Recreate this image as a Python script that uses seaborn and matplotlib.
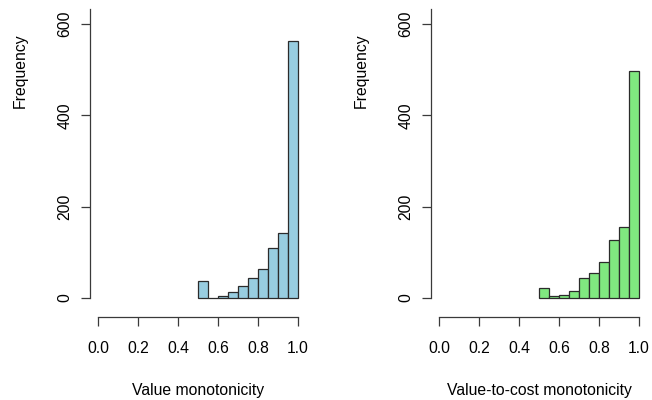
import numpy as np
import pandas as pd
import matplotlib
matplotlib.use("Agg")
import matplotlib.pyplot as plt
import seaborn as sns

# Data
bin_edges = [0.50, 0.55, 0.60, 0.65, 0.70, 0.75, 0.80, 0.85, 0.90, 0.95, 1.00]
value_counts = [37, 1, 4, 14, 27, 44, 63, 110, 142, 563]
vtc_counts = [21, 4, 6, 15, 44, 54, 78, 126, 156, 497]
x_ticks = [0.0, 0.2, 0.4, 0.6, 0.8, 1.0]
x_tick_labels = ["0.0", "0.2", "0.4", "0.6", "0.8", "1.0"]
y_ticks = [0, 200, 400, 600]
y_tick_labels = ["0", "200", "400", "600"]
panels = [
    ("Value monotonicity", value_counts, "#98CDE0"),
    ("Value-to-cost monotonicity", vtc_counts, "#80E880"),
]

sns.set_style("white")
plt.rcParams["font.family"] = ["Liberation Sans", "DejaVu Sans"]

W, H = 652, 400
fig = plt.figure(figsize=(W / 100, H / 100), dpi=100)

centers = [(a + b) / 2 for a, b in zip(bin_edges[:-1], bin_edges[1:])]
axis_color = "#3a3a3a"
fs = 11.3

lefts_px = [90, 431]
for (label, counts, color), lpx in zip(panels, lefts_px):
    ax = fig.add_axes([lpx / W, (H - 317) / H, 216 / W, 308 / H])
    df = pd.DataFrame({"x": centers, "w": counts})
    sns.histplot(data=df, x="x", weights="w", bins=bin_edges, ax=ax,
                 color=color, alpha=1.0, edgecolor="#2b2b2b", linewidth=0.9)
    ax.set_xlim(-0.04, 1.04)
    ax.set_ylim(-41.6, 633)
    for s in ["top", "right"]:
        ax.spines[s].set_visible(False)
    ax.spines["left"].set_bounds(0, 633)
    ax.spines["bottom"].set_bounds(0, 1)
    for s in ["left", "bottom"]:
        ax.spines[s].set_color(axis_color)
        ax.spines[s].set_linewidth(0.9)
    ax.set_xticks(x_ticks)
    ax.set_xticklabels(x_tick_labels, fontsize=fs)
    ax.set_yticks(y_ticks)
    ax.set_yticklabels(y_tick_labels, fontsize=fs, rotation=90, va="center")
    ax.tick_params(axis="both", which="major", direction="out", length=6.5,
                   width=0.9, color=axis_color, labelcolor="black")
    ax.tick_params(axis="x", pad=11, bottom=True)
    ax.tick_params(axis="y", pad=6, left=True)
    ax.set_xlabel(label, fontsize=fs, color="black")
    ax.set_ylabel("Frequency", fontsize=fs, color="black")
    ax.xaxis.set_label_coords(0.5, -0.24)
    ax.xaxis.label.set_va("center")
    ax.yaxis.label.set_va("center")
    ax.yaxis.set_label_coords(-70 / 216, (317 - 71) / 308)
    ax.grid(False)

fig.savefig("out.png", dpi=100)
